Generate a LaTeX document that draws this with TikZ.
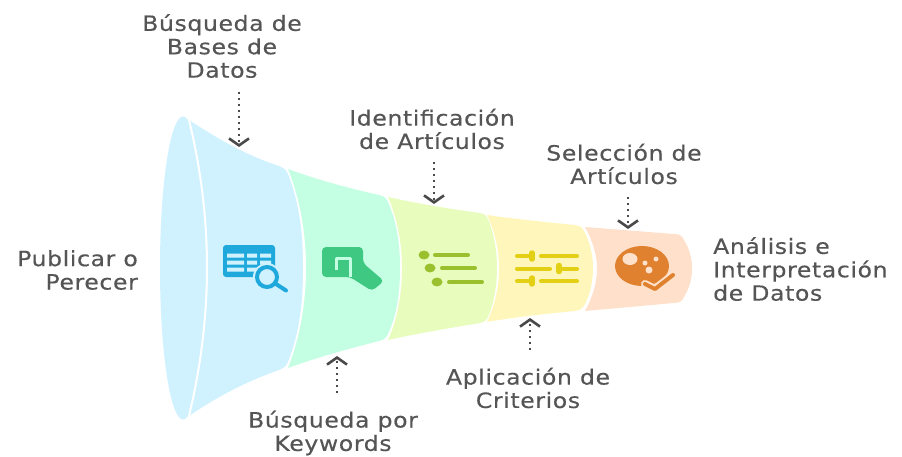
\documentclass[tikz,border=0pt]{standalone}
\usepackage{fontspec}
\setmainfont[LetterSpace=3,FakeStretch=1.12,FakeBold=0.4]{DejaVu Sans}
\usetikzlibrary{arrows.meta}
\definecolor{txt}{HTML}{555555}
\definecolor{arrowc}{HTML}{4A4A4A}
\definecolor{bgA}{HTML}{D0F2FF}
\definecolor{bgB}{HTML}{C5FFE3}
\definecolor{bgC}{HTML}{E8FDBD}
\definecolor{bgD}{HTML}{FFF6BC}
\definecolor{bgE}{HTML}{FFE1CB}
\definecolor{icA}{HTML}{1FA8DC}
\definecolor{icB}{HTML}{3FC882}
\definecolor{icC}{HTML}{9BC02E}
\definecolor{icD}{HTML}{E3CF14}
\definecolor{icE}{HTML}{E08130}
\tikzset{
  lbl/.style={text=txt,font=\fontsize{21}{23.4}\selectfont,inner sep=0pt},
  pointer/.style={draw=arrowc,line width=2.4pt,dash pattern=on 2.2pt off 3.8pt,
    -{Straight Barb[length=7pt,width=20pt,line width=2.6pt]}},
  seam/.style={draw=white,line width=2pt},
  bar/.style={line width=4pt,line cap=round},
  knob/.style={line width=5.5pt,line cap=round}
}
\begin{document}
\begin{tikzpicture}[x=1pt,y=-1pt]
\useasboundingbox (0,0) rectangle (902,457);
% funnel
\fill[bgA] (183,268) ellipse [x radius=23,y radius=151.5];
\fill[bgA] (189,120) .. controls (215,137) and (245,155) .. (279,166)
  .. controls (284,168) and (286,170) .. (288,174)
  .. controls (300,205) and (303,235) .. (303,268)
  .. controls (303,300) and (300,332) .. (288,362)
  .. controls (286,366) and (284,368) .. (279,370)
  .. controls (245,382) and (215,398) .. (189,416)
  .. controls (200,370) and (206,320) .. (206,268)
  .. controls (206,215) and (200,165) .. (189,120) -- cycle;
\draw[seam] (189,120) .. controls (200,165) and (207,215) .. (207,268)
  .. controls (207,320) and (200,370) .. (189,416);
\fill[bgB] (288,169) .. controls (318,180) and (348,188) .. (379,195)
  .. controls (384,196) and (386,198) .. (388,202)
  .. controls (397,222) and (400,245) .. (400,268)
  .. controls (400,292) and (397,315) .. (388,334)
  .. controls (386,338) and (384,340) .. (379,341)
  .. controls (348,349) and (318,357) .. (288,368)
  .. controls (300,338) and (306,303) .. (306,268)
  .. controls (306,233) and (300,199) .. (288,169) -- cycle;
\fill[bgC] (388,197) .. controls (420,204) and (450,209) .. (480,213)
  .. controls (484,214) and (486,215) .. (488,219)
  .. controls (494,234) and (497,250) .. (497,268)
  .. controls (497,286) and (494,303) .. (488,317)
  .. controls (486,321) and (484,322) .. (480,323)
  .. controls (450,328) and (420,333) .. (388,340)
  .. controls (397,320) and (402,295) .. (402,268)
  .. controls (402,242) and (397,218) .. (388,197) -- cycle;
\fill[bgD] (487,215) .. controls (515,219) and (545,222) .. (575,225)
  .. controls (580,226) and (582,227) .. (584,231)
  .. controls (590,242) and (593,255) .. (593,268)
  .. controls (593,282) and (590,295) .. (584,306)
  .. controls (582,309) and (580,310) .. (575,311)
  .. controls (545,314) and (515,317) .. (487,322)
  .. controls (495,305) and (499,287) .. (499,268)
  .. controls (499,250) and (495,232) .. (487,215) -- cycle;
\fill[bgE] (585,227) -- (674,234)
  .. controls (680,234) and (682,236) .. (684,240)
  .. controls (690,250) and (692,259) .. (692,268)
  .. controls (692,278) and (690,287) .. (684,297)
  .. controls (682,301) and (680,303) .. (674,303)
  -- (585,311)
  .. controls (592,298) and (597,284) .. (597,268)
  .. controls (597,254) and (592,240) .. (585,227) -- cycle;
% icon table + magnifier
\fill[icA,rounded corners=3pt] (223,245) rectangle (275,277);
\fill[bgA] (227,253.5) rectangle (244,257.5) (247,253.5) rectangle (257,257.5) (260,253.5) rectangle (271,257.5);
\fill[bgA] (227,260.5) rectangle (244,264.5) (247,260.5) rectangle (257,264.5) (260,260.5) rectangle (271,264.5);
\fill[bgA] (227,267.5) rectangle (244,271.5) (247,267.5) rectangle (257,271.5);
\fill[bgA] (267,277) circle (14);
\draw[icA,line width=4pt,fill=bgA] (267,277) circle (10);
\draw[icA,line width=4pt,line cap=round] (276,284) -- (286,290.5);
% icon keyword
\fill[icB,rounded corners=4pt] (322,247) -- (363,247) -- (363,263) -- (384,281) -- (372,291) -- (350,277) -- (322,277) -- cycle;
\draw[bgB,line width=3pt,line join=round] (336,270) -- (336,258.5) -- (350,258.5) -- (350,277);
% icon list
\foreach \cx/\cy/\lx in {424/255/435,430/268/442,437/282/449}{
  \fill[icC] (\cx,\cy) ellipse [x radius=5.5,y radius=4.5];
  \draw[icC,bar] (\lx,\cy) -- ++(33,0);
}
% icon sliders
\draw[icD,bar] (517,256) -- (532,256) (541,256) -- (577,256);
\draw[icD,bar] (517,268.5) -- (550,268.5) (559,268.5) -- (577,268.5);
\draw[icD,bar] (517,281) -- (532,281) (541,281) -- (577,281);
\draw[icD,knob] (532,253) -- (532,259);
\draw[icD,knob] (559,265.5) -- (559,271.5);
\draw[icD,knob] (532,278) -- (532,284);
% icon petri
\fill[icE] (642,266) ellipse [x radius=27,y radius=20];
\fill[bgE] (630,259) ellipse [x radius=7.5,y radius=6];
\fill[bgE] (645,263) circle (2.5) (656,259) circle (2.5) (649,270) circle (3.5);
\draw[bgE,line width=8pt,line cap=round,line join=round] (645,284) -- (655,289) -- (673,275);
\draw[icE,line width=4pt,line cap=round,line join=round] (645,284) -- (655,289) -- (673,275);
% labels
\node[lbl,align=right,anchor=east] (publicar) at (138,270) {Publicar o\\Perecer};
\node[lbl,align=center] (bases) at (222,46) {Búsqueda de\\Bases de\\Datos};
\node[lbl,align=center] (identif) at (432,129) {Identificación\\de Artículos};
\node[lbl,align=center] (selecc) at (624,164) {Selección de\\Artículos};
\node[lbl,align=left,anchor=west] (analisis) at (713,269) {Análisis e\\Interpretación\\de Datos};
\node[lbl,align=center] (aplic) at (528,388) {Aplicación de\\Criterios};
\node[lbl,align=center] (keyw) at (333,433) {Búsqueda por\\Keywords};
% connectors
\coordinate (a1) at (239,92); \coordinate (b1) at (239,147);
\coordinate (a2) at (337,393); \coordinate (b2) at (337,356);
\coordinate (a3) at (434,162); \coordinate (b3) at (434,204);
\coordinate (a4) at (530,350); \coordinate (b4) at (530,318);
\coordinate (a5) at (628,197); \coordinate (b5) at (628,229);
\draw[pointer] (a1) -- (b1);
\draw[pointer] (a2) -- (b2);
\draw[pointer] (a3) -- (b3);
\draw[pointer] (a4) -- (b4);
\draw[pointer] (a5) -- (b5);
\end{tikzpicture}
\end{document}
